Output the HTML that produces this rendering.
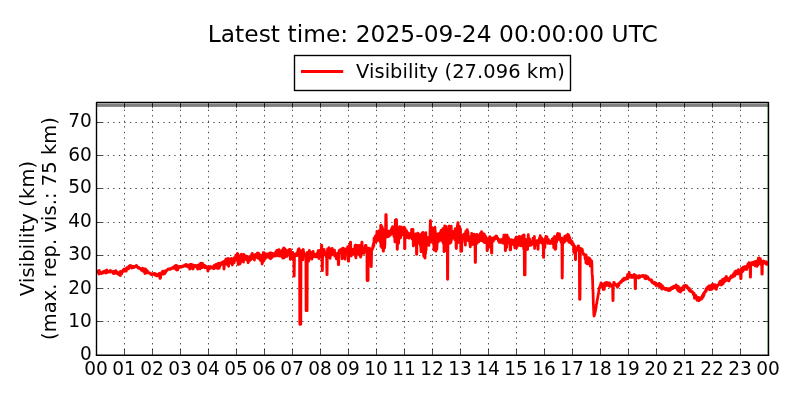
<!DOCTYPE html>
<html lang="en"><head><meta charset="utf-8">
<title>Visibility</title>
<style>
html,body{margin:0;padding:0;background:#fff;}
body{width:800px;height:400px;overflow:hidden;}
svg{display:block;}
text{font-family:"DejaVu Sans","Liberation Sans",sans-serif;fill:#000;}
.t14{font-size:19.44px;}
.t16{font-size:23.33px;}
.grid{stroke:#000;stroke-width:0.7;stroke-dasharray:1.39 4.17;fill:none;}
.tick{stroke:#000;stroke-width:0.7;fill:none;}
</style></head><body>
<svg width="800" height="400" viewBox="0 0 800 400">
<rect x="0" y="0" width="800" height="400" fill="#fff"/>
<rect x="96.5" y="103.75" width="672.0" height="3.15" fill="#808080"/>
<path class="grid" d="M124.5 355.6V102.5M152.5 355.6V102.5M180.5 355.6V102.5M208.5 355.6V102.5M236.5 355.6V102.5M264.5 355.6V102.5M292.5 355.6V102.5M320.5 355.6V102.5M348.5 355.6V102.5M376.5 355.6V102.5M404.5 355.6V102.5M432.5 355.6V102.5M460.5 355.6V102.5M488.5 355.6V102.5M516.5 355.6V102.5M544.5 355.6V102.5M572.5 355.6V102.5M600.5 355.6V102.5M628.5 355.6V102.5M656.5 355.6V102.5M684.5 355.6V102.5M712.5 355.6V102.5M740.5 355.6V102.5M96.5 321.50H768.5M96.5 288.50H768.5M96.5 255.50H768.5M96.5 222.50H768.5M96.5 188.50H768.5M96.5 155.50H768.5M96.5 122.50H768.5"/>
<path class="tick" d="M96.5 354.5v-5.56M96.5 102.5v5.56M124.5 354.5v-5.56M124.5 102.5v5.56M152.5 354.5v-5.56M152.5 102.5v5.56M180.5 354.5v-5.56M180.5 102.5v5.56M208.5 354.5v-5.56M208.5 102.5v5.56M236.5 354.5v-5.56M236.5 102.5v5.56M264.5 354.5v-5.56M264.5 102.5v5.56M292.5 354.5v-5.56M292.5 102.5v5.56M320.5 354.5v-5.56M320.5 102.5v5.56M348.5 354.5v-5.56M348.5 102.5v5.56M376.5 354.5v-5.56M376.5 102.5v5.56M404.5 354.5v-5.56M404.5 102.5v5.56M432.5 354.5v-5.56M432.5 102.5v5.56M460.5 354.5v-5.56M460.5 102.5v5.56M488.5 354.5v-5.56M488.5 102.5v5.56M516.5 354.5v-5.56M516.5 102.5v5.56M544.5 354.5v-5.56M544.5 102.5v5.56M572.5 354.5v-5.56M572.5 102.5v5.56M600.5 354.5v-5.56M600.5 102.5v5.56M628.5 354.5v-5.56M628.5 102.5v5.56M656.5 354.5v-5.56M656.5 102.5v5.56M684.5 354.5v-5.56M684.5 102.5v5.56M712.5 354.5v-5.56M712.5 102.5v5.56M740.5 354.5v-5.56M740.5 102.5v5.56M768.5 354.5v-5.56M768.5 102.5v5.56M96.5 321.50h5.56M768.5 321.50h-5.56M96.5 288.50h5.56M768.5 288.50h-5.56M96.5 255.50h5.56M768.5 255.50h-5.56M96.5 222.50h5.56M768.5 222.50h-5.56M96.5 188.50h5.56M768.5 188.50h-5.56M96.5 155.50h5.56M768.5 155.50h-5.56M96.5 122.50h5.56M768.5 122.50h-5.56"/>
<line x1="767.45" y1="102.5" x2="767.45" y2="354.5" stroke="#008000" stroke-opacity="0.3" stroke-width="1.0"/>
<clipPath id="axclip"><rect x="96.5" y="102.5" width="672.0" height="252.0"/></clipPath>
<polyline clip-path="url(#axclip)" fill="none" stroke="#ff0000" stroke-width="2.78" stroke-linejoin="round" stroke-linecap="butt" points="96.5,271.8 96.7,271.9 97.0,271.1 97.2,271.9 97.4,272.0 97.7,271.9 97.9,272.0 98.1,272.4 98.4,272.8 98.6,271.0 98.8,271.5 99.1,274.0 99.3,270.5 99.5,273.2 99.8,272.2 100.0,272.7 100.2,272.5 100.5,273.1 100.7,272.8 100.9,273.3 101.2,272.8 101.4,272.9 101.6,273.6 101.9,273.3 102.1,272.8 102.3,272.7 102.6,271.9 102.8,272.3 103.0,273.0 103.3,272.2 103.5,272.0 103.7,271.4 104.0,271.7 104.2,272.4 104.4,272.1 104.7,271.5 104.9,271.9 105.1,272.6 105.4,270.8 105.6,270.6 105.8,273.1 106.0,272.0 106.3,270.6 106.5,272.6 106.7,271.3 107.0,270.0 107.2,272.6 107.4,271.6 107.7,271.9 107.9,271.0 108.1,271.4 108.4,271.6 108.6,271.7 108.8,272.0 109.1,271.4 109.3,271.3 109.5,271.6 109.8,271.5 110.0,270.6 110.2,272.0 110.5,272.1 110.7,270.6 110.9,270.8 111.2,271.7 111.4,271.7 111.6,271.1 111.9,271.6 112.1,271.3 112.3,272.0 112.6,271.9 112.8,272.1 113.0,271.9 113.3,273.6 113.5,272.4 113.7,271.5 114.0,271.5 114.2,271.8 114.4,271.9 114.7,272.8 114.9,273.3 115.1,273.4 115.4,273.3 115.6,270.7 115.8,270.6 116.1,271.7 116.3,273.1 116.5,271.5 116.8,271.8 117.0,273.4 117.2,273.6 117.5,272.7 117.7,273.1 117.9,274.2 118.2,274.3 118.4,273.1 118.6,274.0 118.9,273.6 119.1,274.2 119.3,273.7 119.6,274.8 119.8,271.8 120.0,272.7 120.3,275.7 120.5,271.5 120.7,273.2 121.0,273.2 121.2,273.5 121.4,273.5 121.7,273.8 121.9,271.9 122.1,272.4 122.4,271.3 122.6,270.8 122.8,270.9 123.1,269.9 123.3,270.9 123.5,271.4 123.8,269.9 124.0,269.1 124.2,270.3 124.5,270.9 124.7,270.8 124.9,270.2 125.1,271.0 125.4,269.5 125.6,270.5 125.8,268.7 126.1,269.2 126.3,271.1 126.5,268.3 126.8,267.6 127.0,268.4 127.2,267.7 127.5,268.2 127.7,267.6 127.9,267.5 128.2,268.0 128.4,268.2 128.6,268.9 128.9,266.1 129.1,266.4 129.3,266.2 129.6,267.3 129.8,265.7 130.0,267.4 130.3,265.5 130.5,266.1 130.7,266.2 131.0,267.2 131.2,267.6 131.4,265.8 131.7,267.4 131.9,268.0 132.1,268.0 132.4,266.3 132.6,267.3 132.8,267.6 133.1,266.3 133.3,266.7 133.5,266.9 133.8,267.5 134.0,267.0 134.2,267.3 134.5,266.5 134.7,266.8 134.9,266.5 135.2,266.8 135.4,266.2 135.6,266.3 135.9,266.4 136.1,266.4 136.3,265.3 136.6,265.6 136.8,266.3 137.0,266.7 137.3,266.8 137.5,267.2 137.7,267.2 138.0,267.9 138.2,267.9 138.4,267.5 138.7,267.1 138.9,268.4 139.1,268.3 139.4,268.1 139.6,268.3 139.8,268.3 140.1,268.4 140.3,269.0 140.5,269.0 140.8,269.2 141.0,269.0 141.2,269.3 141.5,270.3 141.7,269.5 141.9,269.1 142.2,269.6 142.4,270.1 142.6,268.1 142.9,268.6 143.1,268.8 143.3,271.4 143.5,269.6 143.8,269.3 144.0,269.5 144.2,269.6 144.5,269.3 144.7,268.9 144.9,273.5 145.2,268.8 145.4,272.2 145.6,271.4 145.9,269.3 146.1,269.5 146.3,273.1 146.6,271.1 146.8,270.5 147.0,270.6 147.3,270.8 147.5,272.7 147.7,271.3 148.0,272.8 148.2,272.1 148.4,272.2 148.7,272.7 148.9,273.0 149.1,273.0 149.4,272.6 149.6,272.9 149.8,273.0 150.1,273.3 150.3,273.6 150.5,273.4 150.8,274.4 151.0,274.6 151.2,274.0 151.5,274.7 151.7,273.9 151.9,273.8 152.2,274.5 152.4,273.8 152.6,274.3 152.9,274.2 153.1,274.3 153.3,274.4 153.6,274.1 153.8,274.3 154.0,273.5 154.3,273.4 154.5,274.0 154.7,275.1 155.0,274.0 155.2,273.9 155.4,275.3 155.7,273.9 155.9,274.9 156.1,274.1 156.4,274.6 156.6,275.7 156.8,274.6 157.1,276.0 157.3,275.8 157.5,275.2 157.8,274.3 158.0,274.2 158.2,275.2 158.5,275.0 158.7,275.6 158.9,275.0 159.2,274.2 159.4,273.3 159.6,275.0 159.9,278.3 160.1,274.3 160.3,278.3 160.6,277.5 160.8,275.8 161.0,273.9 161.3,274.4 161.5,273.3 161.7,272.4 161.9,272.4 162.2,272.0 162.4,271.7 162.6,271.3 162.9,271.8 163.1,274.0 163.3,273.3 163.6,274.1 163.8,271.2 164.0,273.0 164.3,272.0 164.5,272.2 164.7,273.7 165.0,272.0 165.2,273.1 165.4,271.0 165.7,272.2 165.9,271.2 166.1,271.4 166.4,270.8 166.6,271.0 166.8,270.1 167.1,270.5 167.3,270.0 167.5,270.0 167.8,269.3 168.0,269.6 168.2,269.4 168.5,269.0 168.7,269.2 168.9,269.4 169.2,269.2 169.4,269.0 169.6,269.4 169.9,268.8 170.1,268.7 170.3,268.6 170.6,269.2 170.8,268.3 171.0,268.4 171.3,268.4 171.5,268.1 171.7,267.8 172.0,267.8 172.2,267.9 172.4,267.8 172.7,268.3 172.9,267.5 173.1,267.6 173.4,268.4 173.6,267.2 173.8,267.8 174.1,267.9 174.3,266.3 174.5,266.6 174.8,268.1 175.0,267.2 175.2,265.9 175.5,265.6 175.7,265.4 175.9,269.4 176.2,265.3 176.4,269.0 176.6,267.8 176.9,270.1 177.1,268.4 177.3,266.8 177.6,266.1 177.8,269.8 178.0,266.3 178.3,267.8 178.5,268.0 178.7,268.0 179.0,266.6 179.2,266.4 179.4,266.5 179.7,266.6 179.9,266.4 180.1,267.1 180.3,267.2 180.6,267.0 180.8,267.4 181.0,266.8 181.3,266.9 181.5,266.7 181.7,266.3 182.0,266.9 182.2,266.6 182.4,266.1 182.7,266.1 182.9,266.6 183.1,266.4 183.4,265.7 183.6,265.9 183.8,265.6 184.1,265.6 184.3,266.1 184.5,265.4 184.8,266.1 185.0,264.9 185.2,265.9 185.5,264.6 185.7,265.3 185.9,265.6 186.2,265.6 186.4,264.4 186.6,266.3 186.9,264.9 187.1,265.7 187.3,266.6 187.6,265.8 187.8,265.6 188.0,265.8 188.3,267.1 188.5,265.8 188.7,266.5 189.0,265.6 189.2,265.9 189.4,264.9 189.7,269.1 189.9,265.0 190.1,264.8 190.4,264.2 190.6,264.7 190.8,268.3 191.1,266.5 191.3,264.3 191.5,266.9 191.8,268.1 192.0,264.8 192.2,267.4 192.5,265.0 192.7,265.7 192.9,269.0 193.2,268.6 193.4,268.3 193.6,265.1 193.9,266.5 194.1,266.2 194.3,266.3 194.6,265.9 194.8,266.0 195.0,266.1 195.3,265.3 195.5,265.3 195.7,265.6 196.0,266.9 196.2,266.8 196.4,266.7 196.7,265.8 196.9,265.6 197.1,267.1 197.4,267.6 197.6,269.1 197.8,265.1 198.1,267.4 198.3,267.3 198.5,267.7 198.8,266.7 199.0,267.6 199.2,268.0 199.4,264.9 199.7,268.2 199.9,264.0 200.1,268.9 200.4,264.9 200.6,265.2 200.8,264.3 201.1,264.0 201.3,263.2 201.5,265.6 201.8,265.2 202.0,264.0 202.2,267.6 202.5,263.3 202.7,265.2 202.9,264.9 203.2,264.8 203.4,265.8 203.6,265.6 203.9,265.0 204.1,265.8 204.3,266.9 204.6,266.6 204.8,265.3 205.0,267.8 205.3,265.8 205.5,266.6 205.7,266.7 206.0,267.4 206.2,267.4 206.4,267.2 206.7,267.9 206.9,266.9 207.1,267.5 207.4,267.2 207.6,266.9 207.8,271.0 208.1,271.0 208.3,266.6 208.5,268.8 208.8,267.8 209.0,268.7 209.2,266.8 209.5,267.5 209.7,268.6 209.9,267.6 210.2,266.4 210.4,268.2 210.6,267.2 210.9,268.1 211.1,267.4 211.3,267.7 211.6,267.3 211.8,267.7 212.0,267.7 212.3,267.1 212.5,267.0 212.7,267.1 213.0,267.4 213.2,267.3 213.4,268.6 213.7,268.7 213.9,266.2 214.1,265.3 214.4,266.3 214.6,268.3 214.8,266.6 215.1,266.8 215.3,267.8 215.5,265.7 215.8,264.3 216.0,264.9 216.2,265.4 216.5,264.1 216.7,264.7 216.9,267.5 217.2,268.4 217.4,266.9 217.6,266.8 217.8,264.5 218.1,267.4 218.3,268.5 218.5,263.1 218.8,265.1 219.0,265.8 219.2,268.2 219.5,264.3 219.7,263.4 219.9,266.5 220.2,265.3 220.4,263.1 220.6,264.0 220.9,263.8 221.1,263.1 221.3,264.4 221.6,262.8 221.8,262.6 222.0,263.0 222.3,262.6 222.5,263.6 222.7,263.4 223.0,262.3 223.2,261.7 223.4,261.9 223.7,262.8 223.9,269.0 224.1,269.0 224.4,261.4 224.6,263.7 224.8,261.1 225.1,263.4 225.3,262.3 225.5,260.0 225.8,259.3 226.0,262.9 226.2,261.9 226.5,263.8 226.7,258.9 226.9,260.3 227.2,262.4 227.4,260.1 227.6,264.9 227.9,265.1 228.1,264.2 228.3,258.5 228.6,266.3 228.8,261.6 229.0,263.7 229.3,261.2 229.5,261.8 229.7,260.4 230.0,261.1 230.2,259.5 230.4,259.8 230.7,260.6 230.9,259.0 231.1,263.3 231.4,258.4 231.6,259.5 231.8,259.6 232.1,258.8 232.3,265.0 232.5,259.4 232.8,262.7 233.0,262.7 233.2,263.4 233.5,259.5 233.7,259.8 233.9,261.4 234.2,262.6 234.4,257.6 234.6,258.0 234.9,257.7 235.1,260.1 235.3,259.3 235.6,260.2 235.8,255.1 236.0,255.4 236.2,257.4 236.5,258.8 236.7,259.7 236.9,258.6 237.2,256.2 237.4,253.3 237.6,255.5 237.9,253.9 238.1,264.5 238.3,264.5 238.6,260.3 238.8,264.3 239.0,259.9 239.3,258.1 239.5,262.2 239.7,256.0 240.0,263.9 240.2,258.0 240.4,263.0 240.7,261.4 240.9,261.0 241.1,259.3 241.4,254.2 241.6,255.9 241.8,256.9 242.1,257.2 242.3,255.3 242.5,258.7 242.8,258.4 243.0,255.8 243.2,255.5 243.5,262.1 243.7,258.5 243.9,254.4 244.2,257.4 244.4,257.1 244.6,257.2 244.9,255.9 245.1,259.3 245.3,255.9 245.6,258.6 245.8,256.3 246.0,256.0 246.3,256.3 246.5,259.3 246.7,257.3 247.0,258.0 247.2,258.2 247.4,260.6 247.7,256.6 247.9,258.1 248.1,262.8 248.4,260.7 248.6,256.9 248.8,260.4 249.1,261.3 249.3,257.6 249.5,257.9 249.8,259.3 250.0,256.4 250.2,256.2 250.5,258.9 250.7,259.9 250.9,257.6 251.2,255.9 251.4,258.5 251.6,255.4 251.9,253.8 252.1,257.5 252.3,253.5 252.6,257.6 252.8,256.1 253.0,257.0 253.3,255.5 253.5,257.7 253.7,259.0 254.0,256.0 254.2,257.0 254.4,260.0 254.7,257.0 254.9,254.8 255.1,256.9 255.3,255.5 255.6,254.5 255.8,255.5 256.0,254.7 256.3,255.0 256.5,256.0 256.7,255.9 257.0,257.6 257.2,253.4 257.4,254.2 257.7,252.9 257.9,253.3 258.1,258.3 258.4,255.5 258.6,256.5 258.8,258.4 259.1,253.7 259.3,254.8 259.5,256.8 259.8,256.0 260.0,256.2 260.2,260.0 260.5,256.7 260.7,260.6 260.9,259.8 261.2,257.4 261.4,255.4 261.6,256.3 261.9,259.8 262.1,264.0 262.3,259.4 262.6,262.8 262.8,258.1 263.0,261.5 263.3,252.6 263.5,258.8 263.7,254.9 264.0,260.8 264.2,252.7 264.4,253.2 264.7,259.3 264.9,254.0 265.1,257.0 265.4,258.5 265.6,256.5 265.8,255.6 266.1,255.4 266.3,257.1 266.5,254.0 266.8,257.1 267.0,256.3 267.2,257.0 267.5,256.6 267.7,256.0 267.9,256.8 268.2,257.1 268.4,254.0 268.6,255.1 268.9,257.1 269.1,256.6 269.3,255.9 269.6,257.4 269.8,252.9 270.0,258.4 270.3,257.0 270.5,258.2 270.7,258.8 271.0,252.8 271.2,255.3 271.4,253.6 271.7,256.1 271.9,255.8 272.1,253.6 272.4,257.3 272.6,253.5 272.8,255.3 273.1,254.6 273.3,255.6 273.5,254.6 273.7,254.7 274.0,255.1 274.2,254.7 274.4,254.6 274.7,254.5 274.9,253.3 275.1,256.1 275.4,252.8 275.6,253.0 275.8,251.8 276.1,255.9 276.3,255.5 276.5,250.9 276.8,252.6 277.0,255.1 277.2,250.2 277.5,251.5 277.7,250.9 277.9,253.2 278.2,253.9 278.4,255.8 278.6,255.8 278.9,255.9 279.1,249.6 279.3,252.7 279.6,251.9 279.8,254.4 280.0,256.1 280.3,255.1 280.5,253.9 280.7,253.9 281.0,252.7 281.2,251.4 281.4,255.6 281.7,251.0 281.9,252.5 282.1,256.8 282.4,250.0 282.6,253.4 282.8,258.1 283.1,250.6 283.3,249.6 283.5,248.1 283.8,248.0 284.0,257.9 284.2,251.7 284.5,249.8 284.7,248.7 284.9,254.6 285.2,255.0 285.4,256.8 285.6,251.1 285.9,252.4 286.1,250.0 286.3,250.8 286.6,251.9 286.8,250.9 287.0,256.3 287.3,253.3 287.5,254.7 287.7,253.0 288.0,250.7 288.2,252.8 288.4,253.3 288.7,254.3 288.9,254.5 289.1,254.4 289.4,249.4 289.6,250.8 289.8,252.0 290.1,253.8 290.3,259.4 290.5,249.7 290.8,256.0 291.0,253.1 291.2,256.6 291.5,252.3 291.7,255.2 291.9,254.4 292.1,258.7 292.4,252.8 292.6,258.6 292.8,252.3 293.1,259.1 293.3,255.1 293.5,256.5 293.8,254.2 294.0,276.2 294.2,276.2 294.5,254.7 294.7,256.1 294.9,254.6 295.2,255.9 295.4,253.8 295.6,255.4 295.9,253.9 296.1,254.4 296.3,255.6 296.6,253.7 296.8,254.2 297.0,255.7 297.3,254.9 297.5,253.6 297.7,251.5 298.0,251.7 298.2,249.5 298.4,253.3 298.7,255.0 298.9,250.0 299.1,248.7 299.4,253.2 299.6,257.7 299.8,324.3 300.1,324.3 300.3,324.3 300.5,324.3 300.8,324.3 301.0,255.6 301.2,255.3 301.5,254.8 301.7,250.6 301.9,251.7 302.2,251.6 302.4,250.1 302.6,255.9 302.9,259.8 303.1,252.0 303.3,249.5 303.6,255.8 303.8,252.1 304.0,254.7 304.3,256.0 304.5,254.1 304.7,254.1 305.0,255.2 305.2,254.6 305.4,255.7 305.7,254.2 305.9,255.8 306.1,310.7 306.4,310.7 306.6,310.7 306.8,310.7 307.1,310.7 307.3,252.5 307.5,256.1 307.8,258.9 308.0,252.5 308.2,259.4 308.5,261.3 308.7,256.6 308.9,260.6 309.2,251.5 309.4,250.3 309.6,255.6 309.9,255.2 310.1,257.7 310.3,255.9 310.6,252.1 310.8,252.5 311.0,254.4 311.2,253.9 311.5,258.3 311.7,257.0 311.9,259.1 312.2,255.9 312.4,252.6 312.6,251.9 312.9,253.8 313.1,251.3 313.3,254.2 313.6,256.9 313.8,256.7 314.0,255.7 314.3,253.6 314.5,254.0 314.7,255.2 315.0,254.6 315.2,255.4 315.4,255.9 315.7,255.2 315.9,256.9 316.1,255.8 316.4,257.0 316.6,256.6 316.8,255.4 317.1,253.6 317.3,254.8 317.5,253.6 317.8,252.4 318.0,253.9 318.2,250.6 318.5,250.7 318.7,251.7 318.9,258.7 319.2,250.5 319.4,256.1 319.6,254.8 319.9,255.3 320.1,256.5 320.3,252.1 320.6,252.1 320.8,256.8 321.0,251.5 321.3,250.5 321.5,245.2 321.7,245.2 322.0,251.3 322.2,270.7 322.4,270.7 322.7,249.7 322.9,251.7 323.1,253.3 323.4,252.3 323.6,252.0 323.8,254.5 324.1,249.3 324.3,250.1 324.5,253.1 324.8,253.1 325.0,253.3 325.2,253.0 325.5,255.2 325.7,254.8 325.9,253.7 326.2,256.9 326.4,254.7 326.6,255.9 326.9,274.7 327.1,274.7 327.3,253.0 327.6,248.8 327.8,248.8 328.0,249.2 328.3,254.3 328.5,253.4 328.7,257.1 329.0,247.7 329.2,249.1 329.4,249.6 329.6,248.3 329.9,253.2 330.1,258.4 330.3,254.5 330.6,255.7 330.8,250.3 331.0,249.9 331.3,254.3 331.5,249.4 331.7,253.2 332.0,254.9 332.2,248.5 332.4,250.5 332.7,253.9 332.9,253.8 333.1,249.9 333.4,250.3 333.6,253.7 333.8,253.6 334.1,253.8 334.3,253.1 334.5,250.2 334.8,256.1 335.0,254.7 335.2,254.3 335.5,253.6 335.7,256.6 335.9,255.3 336.2,255.8 336.4,258.8 336.6,258.1 336.9,254.1 337.1,257.4 337.3,255.3 337.6,253.1 337.8,253.8 338.0,253.4 338.3,264.7 338.5,264.7 338.7,264.7 339.0,251.5 339.2,250.3 339.4,251.6 339.7,251.4 339.9,249.9 340.1,249.7 340.4,249.8 340.6,252.2 340.8,253.1 341.1,249.7 341.3,249.9 341.5,253.3 341.8,248.8 342.0,257.0 342.2,258.8 342.5,257.5 342.7,255.2 342.9,248.2 343.2,248.2 343.4,248.2 343.6,252.5 343.9,254.2 344.1,253.6 344.3,252.3 344.6,255.6 344.8,252.9 345.0,259.2 345.3,250.0 345.5,249.6 345.7,249.0 346.0,251.8 346.2,249.7 346.4,249.9 346.7,248.9 346.9,253.4 347.1,249.1 347.4,249.1 347.6,246.9 347.8,253.5 348.0,253.9 348.3,261.2 348.5,261.2 348.7,261.2 349.0,245.8 349.2,251.3 349.4,255.8 349.7,245.3 349.9,246.9 350.1,246.6 350.4,242.1 350.6,242.1 350.8,248.8 351.1,251.4 351.3,256.0 351.5,255.0 351.8,253.3 352.0,254.2 352.2,254.1 352.5,249.4 352.7,249.6 352.9,252.3 353.2,252.1 353.4,252.4 353.6,249.1 353.9,249.8 354.1,250.6 354.3,253.9 354.6,249.4 354.8,253.0 355.0,245.3 355.3,245.1 355.5,256.8 355.7,245.2 356.0,257.9 356.2,246.7 356.4,251.5 356.7,249.1 356.9,252.2 357.1,245.5 357.4,253.7 357.6,247.5 357.8,247.2 358.1,254.2 358.3,247.8 358.5,245.6 358.8,247.0 359.0,254.1 359.2,255.1 359.5,255.1 359.7,254.6 359.9,245.3 360.2,255.3 360.4,249.9 360.6,257.1 360.9,249.8 361.1,252.1 361.3,255.3 361.6,252.5 361.8,242.1 362.0,242.1 362.3,252.2 362.5,250.6 362.7,249.9 363.0,250.7 363.2,250.6 363.4,249.0 363.7,248.7 363.9,253.4 364.1,251.1 364.4,249.4 364.6,250.1 364.8,251.1 365.1,246.0 365.3,246.3 365.5,245.3 365.8,248.9 366.0,245.5 366.2,247.5 366.5,249.6 366.7,248.2 366.9,248.7 367.1,280.5 367.4,280.5 367.6,280.5 367.8,280.5 368.1,280.5 368.3,248.2 368.5,250.1 368.8,250.0 369.0,249.7 369.2,250.6 369.5,248.2 369.7,250.7 369.9,248.9 370.2,252.3 370.4,249.5 370.6,252.0 370.9,251.0 371.1,266.7 371.3,266.7 371.6,250.6 371.8,249.2 372.0,248.8 372.3,249.4 372.5,249.4 372.7,247.2 373.0,245.3 373.2,247.3 373.4,243.7 373.7,244.0 373.9,245.7 374.1,238.1 374.4,240.9 374.6,239.1 374.8,242.3 375.1,236.4 375.3,239.0 375.5,242.0 375.8,239.1 376.0,235.3 376.2,242.0 376.5,237.2 376.7,239.6 376.9,231.4 377.2,235.6 377.4,235.7 377.6,238.8 377.9,235.3 378.1,240.3 378.3,231.9 378.6,239.7 378.8,239.5 379.0,237.7 379.3,230.6 379.5,237.9 379.7,233.4 380.0,233.2 380.2,235.8 380.4,242.4 380.7,225.4 380.9,246.6 381.1,225.2 381.4,240.2 381.6,232.1 381.8,247.5 382.1,226.7 382.3,230.6 382.5,228.3 382.8,229.6 383.0,241.1 383.2,251.2 383.5,251.2 383.7,242.4 383.9,230.0 384.2,237.3 384.4,240.4 384.6,247.9 384.9,244.0 385.1,236.4 385.3,231.1 385.5,235.1 385.8,214.6 386.0,214.6 386.2,214.6 386.5,235.0 386.7,235.8 386.9,236.5 387.2,236.9 387.4,233.0 387.6,232.2 387.9,232.3 388.1,231.4 388.3,236.5 388.6,231.1 388.8,236.4 389.0,232.9 389.3,233.0 389.5,234.8 389.7,233.3 390.0,233.6 390.2,231.7 390.4,235.2 390.7,231.3 390.9,232.4 391.1,229.7 391.4,231.7 391.6,233.6 391.8,228.1 392.1,231.3 392.3,232.2 392.5,226.7 392.8,227.4 393.0,228.4 393.2,232.5 393.5,232.9 393.7,233.6 393.9,236.4 394.2,231.6 394.4,228.8 394.6,233.9 394.9,241.9 395.1,227.8 395.3,220.2 395.6,220.2 395.8,224.1 396.0,219.7 396.3,238.1 396.5,219.7 396.7,233.0 397.0,232.5 397.2,249.3 397.4,249.3 397.7,227.6 397.9,244.0 398.1,240.6 398.4,229.7 398.6,243.1 398.8,239.0 399.1,237.2 399.3,227.3 399.5,226.8 399.8,229.2 400.0,226.8 400.2,238.0 400.5,231.0 400.7,237.7 400.9,232.4 401.2,232.7 401.4,227.0 401.6,231.2 401.9,235.1 402.1,234.8 402.3,230.4 402.6,228.9 402.8,231.1 403.0,233.5 403.3,232.6 403.5,232.4 403.7,231.7 403.9,230.2 404.2,227.2 404.4,228.0 404.6,248.7 404.9,248.7 405.1,228.5 405.3,231.7 405.6,232.7 405.8,231.1 406.0,230.9 406.3,233.6 406.5,230.7 406.7,233.8 407.0,237.5 407.2,235.5 407.4,232.7 407.7,232.4 407.9,235.0 408.1,236.2 408.4,233.8 408.6,233.2 408.8,238.2 409.1,238.1 409.3,237.7 409.5,237.7 409.8,235.0 410.0,236.3 410.2,233.3 410.5,233.8 410.7,235.2 410.9,234.7 411.2,235.6 411.4,234.8 411.6,229.4 411.9,233.1 412.1,239.0 412.3,233.2 412.6,234.3 412.8,233.3 413.0,229.4 413.3,245.9 413.5,241.2 413.7,245.4 414.0,233.8 414.2,239.4 414.4,238.1 414.7,238.3 414.9,237.9 415.1,241.7 415.4,239.9 415.6,241.7 415.8,233.9 416.1,239.6 416.3,235.7 416.5,254.3 416.8,254.3 417.0,236.6 417.2,234.2 417.5,238.3 417.7,233.2 417.9,236.8 418.2,233.4 418.4,238.6 418.6,234.8 418.9,242.7 419.1,234.6 419.3,243.3 419.6,241.2 419.8,235.8 420.0,235.7 420.3,234.8 420.5,246.2 420.7,244.9 421.0,251.7 421.2,251.7 421.4,247.3 421.7,242.1 421.9,238.1 422.1,233.2 422.4,232.8 422.6,247.4 422.8,237.5 423.0,232.5 423.3,240.2 423.5,252.1 423.7,256.3 424.0,256.2 424.2,254.9 424.4,248.4 424.7,256.2 424.9,258.1 425.1,258.1 425.4,237.5 425.6,253.6 425.8,232.6 426.1,250.1 426.3,236.7 426.5,242.8 426.8,237.1 427.0,238.4 427.2,240.3 427.5,241.2 427.7,239.1 427.9,243.5 428.2,243.8 428.4,238.5 428.6,243.6 428.9,245.4 429.1,237.4 429.3,241.6 429.6,237.0 429.8,242.2 430.0,233.9 430.3,220.7 430.5,220.7 430.7,233.7 431.0,242.2 431.2,239.9 431.4,239.0 431.7,228.1 431.9,233.8 432.1,236.5 432.4,234.6 432.6,236.0 432.8,240.8 433.1,232.4 433.3,240.4 433.5,228.4 433.8,243.8 434.0,250.0 434.2,234.4 434.5,245.2 434.7,237.8 434.9,227.2 435.2,232.2 435.4,231.4 435.6,242.6 435.9,251.2 436.1,234.4 436.3,236.4 436.6,249.3 436.8,249.3 437.0,247.0 437.3,236.5 437.5,241.2 437.7,239.5 438.0,233.8 438.2,242.0 438.4,236.1 438.7,234.0 438.9,233.8 439.1,239.3 439.4,239.7 439.6,239.5 439.8,239.9 440.1,240.3 440.3,232.5 440.5,236.8 440.8,238.4 441.0,230.5 441.2,233.7 441.4,233.8 441.7,239.4 441.9,232.2 442.1,230.2 442.4,235.6 442.6,241.7 442.8,228.7 443.1,231.9 443.3,243.3 443.5,232.8 443.8,231.7 444.0,251.7 444.2,231.3 444.5,236.6 444.7,225.9 444.9,234.0 445.2,235.0 445.4,245.8 445.6,250.7 445.9,226.5 446.1,249.2 446.3,228.8 446.6,241.5 446.8,239.5 447.0,236.9 447.3,236.4 447.5,279.3 447.7,279.3 448.0,231.4 448.2,234.8 448.4,237.3 448.7,232.5 448.9,226.1 449.1,236.0 449.4,226.2 449.6,243.4 449.8,226.6 450.1,236.0 450.3,238.8 450.5,242.7 450.8,239.3 451.0,242.4 451.2,226.1 451.5,240.0 451.7,235.7 451.9,235.0 452.2,233.2 452.4,231.1 452.6,231.4 452.9,237.5 453.1,233.8 453.3,237.0 453.6,233.5 453.8,235.6 454.0,236.4 454.3,233.8 454.5,237.9 454.7,239.7 455.0,231.9 455.2,228.7 455.4,229.5 455.7,230.5 455.9,232.3 456.1,247.5 456.4,248.5 456.6,233.4 456.8,242.2 457.1,242.5 457.3,225.7 457.5,240.1 457.8,222.7 458.0,222.7 458.2,225.7 458.5,234.9 458.7,242.5 458.9,227.4 459.2,232.2 459.4,226.2 459.6,230.9 459.8,242.3 460.1,238.8 460.3,232.4 460.5,228.7 460.8,251.4 461.0,251.4 461.2,237.9 461.5,251.2 461.7,251.2 461.9,240.2 462.2,238.7 462.4,235.5 462.6,236.0 462.9,236.7 463.1,236.9 463.3,236.9 463.6,234.4 463.8,237.0 464.0,234.1 464.3,235.0 464.5,237.1 464.7,239.3 465.0,242.6 465.2,234.2 465.4,245.2 465.7,231.5 465.9,233.8 466.1,236.5 466.4,232.9 466.6,233.4 466.8,230.3 467.1,229.6 467.3,229.6 467.5,232.2 467.8,231.3 468.0,232.2 468.2,240.8 468.5,237.4 468.7,236.6 468.9,239.4 469.2,236.5 469.4,236.7 469.6,237.6 469.9,243.2 470.1,245.0 470.3,246.8 470.6,243.6 470.8,241.6 471.0,239.0 471.3,238.5 471.5,238.5 471.7,233.3 472.0,236.2 472.2,239.7 472.4,236.0 472.7,244.5 472.9,237.8 473.1,235.0 473.4,241.5 473.6,239.0 473.8,242.5 474.1,234.1 474.3,239.9 474.5,234.8 474.8,241.9 475.0,238.0 475.2,262.4 475.5,262.4 475.7,240.1 475.9,238.0 476.2,236.8 476.4,238.7 476.6,243.6 476.9,234.4 477.1,241.8 477.3,236.7 477.6,241.1 477.8,242.3 478.0,238.4 478.3,235.8 478.5,238.0 478.7,237.6 478.9,241.8 479.2,240.2 479.4,235.4 479.6,237.2 479.9,235.9 480.1,233.6 480.3,236.3 480.6,239.8 480.8,235.8 481.0,235.4 481.3,240.7 481.5,231.7 481.7,234.0 482.0,232.3 482.2,238.2 482.4,235.5 482.7,234.0 482.9,235.3 483.1,233.6 483.4,239.1 483.6,242.0 483.8,237.9 484.1,234.4 484.3,234.0 484.5,239.3 484.8,242.6 485.0,235.9 485.2,242.1 485.5,236.1 485.7,239.5 485.9,238.3 486.2,237.6 486.4,238.4 486.6,239.8 486.9,241.8 487.1,250.6 487.3,250.6 487.6,242.0 487.8,242.8 488.0,243.7 488.3,242.3 488.5,244.1 488.7,238.5 489.0,238.0 489.2,247.0 489.4,245.6 489.7,236.6 489.9,239.3 490.1,237.0 490.4,241.3 490.6,242.0 490.8,242.9 491.1,242.2 491.3,241.0 491.5,253.1 491.8,253.1 492.0,239.5 492.2,241.7 492.5,238.3 492.7,238.1 492.9,241.1 493.2,239.0 493.4,241.1 493.6,238.5 493.9,239.4 494.1,238.9 494.3,237.5 494.6,238.9 494.8,238.9 495.0,237.5 495.3,239.1 495.5,236.5 495.7,236.5 496.0,238.5 496.2,236.0 496.4,236.2 496.7,236.1 496.9,238.3 497.1,237.4 497.3,238.0 497.6,237.7 497.8,239.0 498.0,239.3 498.3,239.0 498.5,241.1 498.7,240.4 499.0,240.3 499.2,242.3 499.4,239.8 499.7,241.5 499.9,239.7 500.1,240.9 500.4,242.5 500.6,239.8 500.8,241.9 501.1,240.2 501.3,241.0 501.5,239.6 501.8,241.9 502.0,241.9 502.2,241.8 502.5,240.8 502.7,243.2 502.9,238.7 503.2,242.1 503.4,242.4 503.6,240.0 503.9,235.1 504.1,240.8 504.3,238.5 504.6,242.9 504.8,243.9 505.0,235.1 505.3,250.6 505.5,250.6 505.7,242.2 506.0,235.1 506.2,243.9 506.4,236.0 506.7,247.4 506.9,243.4 507.1,235.1 507.4,241.6 507.6,243.4 507.8,242.3 508.1,241.6 508.3,237.4 508.5,241.4 508.8,241.7 509.0,238.7 509.2,239.7 509.5,241.6 509.7,240.8 509.9,240.1 510.2,249.9 510.4,249.9 510.6,249.9 510.9,240.0 511.1,243.9 511.3,239.9 511.6,239.8 511.8,241.6 512.0,244.1 512.3,243.8 512.5,241.2 512.7,240.6 513.0,241.1 513.2,240.2 513.4,243.8 513.7,244.7 513.9,242.6 514.1,243.6 514.4,243.6 514.6,243.9 514.8,248.0 515.1,243.6 515.3,242.3 515.5,238.4 515.8,243.4 516.0,247.8 516.2,237.2 516.4,248.1 516.7,237.1 516.9,241.9 517.1,244.9 517.4,246.3 517.6,239.0 517.8,240.7 518.1,239.4 518.3,237.6 518.5,244.4 518.8,239.5 519.0,242.6 519.2,236.3 519.5,236.5 519.7,245.3 519.9,243.7 520.2,245.4 520.4,244.3 520.6,238.8 520.9,245.9 521.1,238.5 521.3,237.1 521.6,236.7 521.8,240.8 522.0,239.4 522.3,237.4 522.5,237.4 522.7,237.2 523.0,235.3 523.2,246.5 523.4,241.1 523.7,248.9 523.9,239.5 524.1,235.0 524.4,274.9 524.6,274.9 524.8,274.9 525.1,274.9 525.3,242.7 525.5,239.5 525.8,249.4 526.0,240.5 526.2,239.5 526.5,247.8 526.7,248.7 526.9,241.6 527.2,246.0 527.4,241.4 527.6,249.5 527.9,239.8 528.1,238.6 528.3,234.7 528.6,244.5 528.8,244.0 529.0,238.3 529.3,245.6 529.5,238.8 529.7,240.2 530.0,244.7 530.2,241.4 530.4,243.8 530.7,244.0 530.9,242.9 531.1,242.3 531.4,245.2 531.6,244.1 531.8,244.3 532.1,242.5 532.3,241.2 532.5,241.1 532.8,240.5 533.0,238.2 533.2,243.6 533.5,240.0 533.7,243.6 533.9,238.0 534.2,240.3 534.4,236.5 534.6,248.5 534.8,243.5 535.1,241.0 535.3,242.6 535.5,244.6 535.8,245.0 536.0,244.1 536.2,241.0 536.5,241.3 536.7,241.3 536.9,240.6 537.2,241.0 537.4,240.7 537.6,241.2 537.9,249.3 538.1,249.3 538.3,241.3 538.6,241.2 538.8,240.3 539.0,241.6 539.3,242.5 539.5,237.8 539.7,238.9 540.0,242.5 540.2,235.7 540.4,239.2 540.7,240.7 540.9,241.7 541.1,240.3 541.4,237.6 541.6,237.9 541.8,241.4 542.1,243.2 542.3,239.5 542.5,240.8 542.8,240.6 543.0,243.2 543.2,245.2 543.5,257.4 543.7,257.4 543.9,246.6 544.2,239.3 544.4,239.6 544.6,246.7 544.9,247.4 545.1,240.9 545.3,240.5 545.6,240.2 545.8,236.5 546.0,237.1 546.3,237.6 546.5,241.2 546.7,238.2 547.0,236.8 547.2,242.0 547.4,239.3 547.7,241.0 547.9,243.4 548.1,241.7 548.4,239.4 548.6,242.8 548.8,240.4 549.1,242.6 549.3,241.1 549.5,241.4 549.8,241.8 550.0,241.2 550.2,243.6 550.5,243.4 550.7,241.3 550.9,242.0 551.2,241.9 551.4,240.9 551.6,241.9 551.9,240.8 552.1,239.1 552.3,241.8 552.6,243.6 552.8,243.7 553.0,241.6 553.2,239.8 553.5,237.8 553.7,247.7 553.9,240.9 554.2,244.4 554.4,237.3 554.6,236.4 554.9,247.9 555.1,249.4 555.3,243.8 555.6,244.1 555.8,248.9 556.0,237.9 556.3,238.9 556.5,239.7 556.7,241.9 557.0,236.4 557.2,238.3 557.4,234.2 557.7,233.4 557.9,236.4 558.1,238.7 558.4,235.9 558.6,234.7 558.8,236.5 559.1,239.3 559.3,233.9 559.5,233.9 559.8,238.0 560.0,238.6 560.2,237.3 560.5,238.3 560.7,240.7 560.9,241.8 561.2,240.5 561.4,240.4 561.6,243.5 561.9,239.8 562.1,278.1 562.3,278.1 562.6,241.2 562.8,238.1 563.0,239.4 563.3,242.0 563.5,239.6 563.7,242.6 564.0,239.6 564.2,240.2 564.4,240.0 564.7,236.3 564.9,241.5 565.1,236.2 565.4,239.9 565.6,237.5 565.8,236.5 566.1,237.1 566.3,235.7 566.5,238.2 566.8,240.4 567.0,238.4 567.2,235.8 567.5,240.3 567.7,234.9 567.9,234.3 568.2,236.6 568.4,240.3 568.6,234.8 568.9,242.1 569.1,236.3 569.3,240.5 569.6,238.3 569.8,237.5 570.0,242.7 570.3,241.4 570.5,240.1 570.7,240.3 571.0,240.4 571.2,242.6 571.4,242.2 571.6,244.0 571.9,241.6 572.1,241.4 572.3,242.0 572.6,244.9 572.8,244.6 573.0,243.5 573.3,245.7 573.5,244.0 573.7,252.3 574.0,247.9 574.2,247.3 574.4,246.6 574.7,253.1 574.9,253.8 575.1,246.5 575.4,259.7 575.6,259.7 575.8,249.9 576.1,250.5 576.3,248.8 576.5,248.7 576.8,249.5 577.0,250.4 577.2,249.9 577.5,249.9 577.7,250.0 577.9,250.1 578.2,245.8 578.4,245.8 578.6,245.8 578.9,248.9 579.1,247.9 579.3,248.8 579.6,299.3 579.8,299.3 580.0,299.3 580.3,248.5 580.5,249.3 580.7,250.0 581.0,250.8 581.2,249.5 581.4,250.6 581.7,249.0 581.9,251.3 582.1,249.1 582.4,250.5 582.6,251.2 582.8,252.1 583.1,253.1 583.3,254.3 583.5,254.4 583.8,254.5 584.0,254.0 584.2,254.3 584.5,255.3 584.7,255.4 584.9,256.5 585.2,258.7 585.4,256.5 585.6,255.9 585.9,262.8 586.1,255.0 586.3,259.8 586.6,261.7 586.8,263.7 587.0,257.7 587.3,259.4 587.5,263.9 587.7,258.7 588.0,261.4 588.2,259.5 588.4,257.7 588.7,259.7 588.9,263.1 589.1,259.8 589.4,262.9 589.6,258.4 589.8,259.5 590.1,265.2 590.3,266.2 590.5,259.6 590.7,264.8 591.0,264.3 591.2,261.8 591.4,263.7 591.7,260.9 591.9,264.7 592.1,273.4 592.4,275.9 592.6,280.9 592.8,287.0 593.1,293.0 593.3,302.0 593.5,306.5 593.8,313.1 594.0,316.0 594.2,315.9 594.5,314.4 594.7,313.9 594.9,312.7 595.2,312.2 595.4,310.4 595.6,310.2 595.9,307.9 596.1,307.4 596.3,304.8 596.6,303.9 596.8,303.3 597.0,301.0 597.3,299.9 597.5,298.6 597.7,298.0 598.0,296.0 598.2,295.1 598.4,293.6 598.7,292.2 598.9,290.5 599.1,288.8 599.4,287.5 599.6,287.5 599.8,286.8 600.1,285.8 600.3,284.9 600.5,284.9 600.8,283.8 601.0,282.8 601.2,285.0 601.5,284.4 601.7,283.9 601.9,283.8 602.2,287.4 602.4,286.2 602.6,285.0 602.9,287.2 603.1,289.4 603.3,287.1 603.6,284.5 603.8,287.1 604.0,289.3 604.3,289.4 604.5,283.1 604.7,283.2 605.0,285.2 605.2,282.9 605.4,285.9 605.7,285.9 605.9,285.3 606.1,283.7 606.4,282.3 606.6,283.5 606.8,282.5 607.1,283.1 607.3,284.2 607.5,284.5 607.8,282.9 608.0,285.4 608.2,285.1 608.5,283.6 608.7,283.1 608.9,283.4 609.1,284.7 609.4,286.3 609.6,282.8 609.8,286.0 610.1,285.8 610.3,285.2 610.5,284.2 610.8,284.7 611.0,286.0 611.2,285.8 611.5,285.8 611.7,286.4 611.9,285.5 612.2,285.4 612.4,286.1 612.6,286.2 612.9,300.6 613.1,300.6 613.3,284.5 613.6,284.5 613.8,282.4 614.0,283.7 614.3,282.5 614.5,283.7 614.7,283.6 615.0,284.0 615.2,284.4 615.4,284.8 615.7,284.3 615.9,285.2 616.1,285.0 616.4,285.8 616.6,285.6 616.8,285.7 617.1,285.6 617.3,284.7 617.5,287.3 617.8,284.5 618.0,284.0 618.2,285.2 618.5,283.7 618.7,285.5 618.9,284.9 619.2,284.0 619.4,283.3 619.6,282.7 619.9,282.6 620.1,282.2 620.3,282.0 620.6,282.8 620.8,281.6 621.0,281.3 621.3,282.1 621.5,281.7 621.7,281.4 622.0,281.2 622.2,279.9 622.4,280.9 622.7,279.3 622.9,280.2 623.1,278.8 623.4,280.7 623.6,279.1 623.8,280.2 624.1,278.1 624.3,279.9 624.5,278.7 624.8,279.3 625.0,279.0 625.2,278.2 625.5,277.9 625.7,278.0 625.9,278.0 626.2,277.7 626.4,279.2 626.6,277.9 626.9,278.7 627.1,277.6 627.3,277.3 627.5,274.6 627.8,276.8 628.0,278.5 628.2,275.1 628.5,277.6 628.7,274.7 628.9,275.1 629.2,272.4 629.4,275.5 629.6,275.9 629.9,275.9 630.1,276.4 630.3,274.9 630.6,276.9 630.8,275.1 631.0,276.7 631.3,276.2 631.5,277.5 631.7,276.1 632.0,276.2 632.2,275.5 632.4,275.7 632.7,277.4 632.9,276.5 633.1,276.1 633.4,277.0 633.6,276.0 633.8,274.7 634.1,274.5 634.3,274.4 634.5,277.0 634.8,277.2 635.0,277.6 635.2,288.7 635.5,288.7 635.7,276.2 635.9,275.6 636.2,276.5 636.4,275.9 636.6,276.5 636.9,276.3 637.1,276.9 637.3,276.6 637.6,276.9 637.8,276.3 638.0,277.6 638.3,277.7 638.5,276.0 638.7,278.0 639.0,275.7 639.2,275.6 639.4,276.4 639.7,277.6 639.9,276.1 640.1,276.5 640.4,276.2 640.6,276.8 640.8,276.2 641.1,276.2 641.3,276.4 641.5,276.0 641.8,275.9 642.0,275.6 642.2,275.9 642.5,276.1 642.7,275.7 642.9,276.5 643.2,275.5 643.4,276.2 643.6,276.2 643.9,276.2 644.1,275.6 644.3,277.0 644.6,277.0 644.8,278.4 645.0,277.5 645.3,276.1 645.5,275.8 645.7,277.5 646.0,278.9 646.2,276.0 646.4,276.8 646.6,276.2 646.9,276.7 647.1,276.5 647.3,277.4 647.6,277.2 647.8,276.9 648.0,277.3 648.3,278.7 648.5,278.3 648.7,278.3 649.0,279.3 649.2,279.1 649.4,279.9 649.7,279.8 649.9,279.6 650.1,279.9 650.4,280.0 650.6,280.2 650.8,280.6 651.1,279.7 651.3,281.4 651.5,279.9 651.8,281.7 652.0,282.2 652.2,280.9 652.5,282.9 652.7,282.7 652.9,282.5 653.2,283.0 653.4,282.5 653.6,283.1 653.9,283.1 654.1,283.7 654.3,283.1 654.6,282.4 654.8,283.7 655.0,283.9 655.3,283.1 655.5,283.5 655.7,283.1 656.0,285.5 656.2,283.3 656.4,284.2 656.7,284.8 656.9,284.9 657.1,284.8 657.4,285.0 657.6,285.2 657.8,285.2 658.1,284.6 658.3,284.9 658.5,286.4 658.8,286.4 659.0,283.3 659.2,284.5 659.5,284.8 659.7,283.9 659.9,287.0 660.2,284.0 660.4,284.2 660.6,286.6 660.9,285.5 661.1,284.6 661.3,287.8 661.6,289.0 661.8,285.8 662.0,289.1 662.3,286.0 662.5,286.0 662.7,287.7 663.0,287.1 663.2,288.0 663.4,287.7 663.7,287.6 663.9,287.8 664.1,288.0 664.4,288.9 664.6,288.4 664.8,289.4 665.0,289.1 665.3,288.9 665.5,289.1 665.7,289.3 666.0,288.5 666.2,289.8 666.4,288.4 666.7,288.4 666.9,289.3 667.1,289.5 667.4,289.1 667.6,289.3 667.8,289.2 668.1,289.1 668.3,290.7 668.5,290.7 668.8,288.7 669.0,290.6 669.2,289.4 669.5,288.7 669.7,289.9 669.9,290.4 670.2,289.0 670.4,290.1 670.6,289.8 670.9,288.7 671.1,287.6 671.3,288.3 671.6,288.4 671.8,287.4 672.0,287.2 672.3,287.1 672.5,287.0 672.7,288.5 673.0,288.3 673.2,286.6 673.4,287.7 673.7,286.9 673.9,286.2 674.1,287.7 674.4,287.2 674.6,287.3 674.8,286.1 675.1,286.8 675.3,287.4 675.5,287.4 675.8,287.9 676.0,287.5 676.2,285.0 676.5,285.7 676.7,288.2 676.9,288.0 677.2,289.5 677.4,288.3 677.6,289.1 677.9,290.5 678.1,286.3 678.3,286.3 678.6,291.2 678.8,290.6 679.0,288.2 679.3,290.0 679.5,290.3 679.7,287.8 680.0,291.2 680.2,292.0 680.4,292.0 680.7,289.4 680.9,289.4 681.1,289.5 681.4,290.0 681.6,289.6 681.8,290.5 682.1,288.4 682.3,287.6 682.5,290.1 682.8,290.1 683.0,289.9 683.2,287.0 683.4,287.9 683.7,286.0 683.9,289.7 684.1,286.7 684.4,286.5 684.6,287.2 684.8,285.7 685.1,286.9 685.3,285.4 685.5,285.4 685.8,285.7 686.0,285.5 686.2,286.3 686.5,286.5 686.7,285.8 686.9,285.9 687.2,286.9 687.4,287.6 687.6,287.1 687.9,288.0 688.1,287.5 688.3,289.1 688.6,288.4 688.8,288.5 689.0,289.8 689.3,288.4 689.5,291.0 689.7,289.7 690.0,289.6 690.2,290.0 690.4,291.3 690.7,291.6 690.9,290.3 691.1,291.3 691.4,291.6 691.6,291.6 691.8,291.3 692.1,291.5 692.3,292.3 692.5,291.9 692.8,292.2 693.0,293.0 693.2,294.3 693.5,293.4 693.7,294.8 693.9,293.4 694.2,293.4 694.4,298.1 694.6,297.4 694.9,298.2 695.1,297.1 695.3,295.9 695.6,296.5 695.8,297.0 696.0,295.5 696.3,298.1 696.5,297.0 696.7,298.2 697.0,300.2 697.2,299.1 697.4,299.5 697.7,298.0 697.9,297.9 698.1,300.2 698.4,300.6 698.6,297.5 698.8,298.8 699.1,300.6 699.3,300.0 699.5,299.7 699.8,299.7 700.0,298.8 700.2,299.7 700.5,298.0 700.7,298.1 700.9,298.1 701.2,297.9 701.4,299.1 701.6,299.1 701.9,296.7 702.1,298.1 702.3,295.5 702.5,295.4 702.8,297.4 703.0,297.3 703.2,294.3 703.5,293.3 703.7,295.8 703.9,295.4 704.2,293.6 704.4,292.4 704.6,292.7 704.9,291.7 705.1,291.5 705.3,292.3 705.6,290.5 705.8,291.5 706.0,289.1 706.3,291.0 706.5,289.0 706.7,288.2 707.0,287.8 707.2,288.2 707.4,288.6 707.7,287.3 707.9,286.9 708.1,287.2 708.4,286.6 708.6,288.4 708.8,285.9 709.1,289.2 709.3,288.9 709.5,287.8 709.8,289.7 710.0,288.1 710.2,288.4 710.5,285.7 710.7,289.6 710.9,285.9 711.2,286.5 711.4,289.4 711.6,288.9 711.9,287.0 712.1,284.8 712.3,289.0 712.6,284.2 712.8,288.4 713.0,287.3 713.3,287.6 713.5,284.7 713.7,288.1 714.0,285.8 714.2,288.1 714.4,286.9 714.7,288.2 714.9,287.9 715.1,284.6 715.4,286.3 715.6,286.7 715.8,287.9 716.1,289.3 716.3,289.3 716.5,287.5 716.8,287.5 717.0,287.0 717.2,285.6 717.5,285.2 717.7,285.6 717.9,285.4 718.2,285.3 718.4,284.8 718.6,284.4 718.9,284.7 719.1,283.0 719.3,284.4 719.6,284.2 719.8,281.7 720.0,281.6 720.3,281.1 720.5,280.9 720.7,281.9 720.9,284.1 721.2,285.0 721.4,283.8 721.6,282.7 721.9,282.2 722.1,284.3 722.3,284.4 722.6,279.4 722.8,281.8 723.0,280.9 723.3,283.5 723.5,281.7 723.7,280.8 724.0,279.1 724.2,281.8 724.4,278.8 724.7,279.9 724.9,278.0 725.1,278.0 725.4,278.0 725.6,281.0 725.8,279.4 726.1,279.4 726.3,276.4 726.5,279.6 726.8,278.8 727.0,279.8 727.2,279.4 727.5,279.3 727.7,278.0 727.9,279.4 728.2,279.6 728.4,280.8 728.6,279.7 728.9,280.9 729.1,280.7 729.3,279.0 729.6,278.6 729.8,279.2 730.0,278.3 730.3,278.5 730.5,277.0 730.7,277.6 731.0,276.1 731.2,275.7 731.4,277.1 731.7,277.0 731.9,275.9 732.1,277.3 732.4,277.3 732.6,276.2 732.8,276.3 733.1,276.2 733.3,275.9 733.5,273.6 733.8,276.4 734.0,275.7 734.2,273.7 734.5,276.2 734.7,274.7 734.9,271.6 735.2,272.0 735.4,274.1 735.6,272.5 735.9,271.5 736.1,271.0 736.3,273.0 736.6,273.7 736.8,274.1 737.0,271.0 737.3,271.5 737.5,271.5 737.7,272.2 738.0,270.4 738.2,273.8 738.4,269.7 738.7,271.3 738.9,273.8 739.1,271.4 739.4,270.9 739.6,270.5 739.8,272.0 740.0,271.2 740.3,272.3 740.5,271.9 740.7,278.7 741.0,278.7 741.2,272.8 741.4,268.5 741.7,269.5 741.9,268.1 742.1,270.3 742.4,271.8 742.6,270.4 742.8,268.3 743.1,270.9 743.3,267.2 743.5,269.7 743.8,268.7 744.0,266.9 744.2,266.8 744.5,267.0 744.7,269.4 744.9,266.7 745.2,267.9 745.4,268.3 745.6,267.6 745.9,266.4 746.1,266.6 746.3,269.4 746.6,266.2 746.8,269.6 747.0,268.5 747.3,265.6 747.5,265.2 747.7,266.1 748.0,264.0 748.2,265.7 748.4,263.3 748.7,266.9 748.9,265.8 749.1,262.7 749.4,263.1 749.6,264.5 749.8,263.2 750.1,263.9 750.3,277.2 750.5,277.2 750.8,262.9 751.0,263.1 751.2,265.3 751.5,263.8 751.7,263.9 751.9,264.1 752.2,264.8 752.4,262.3 752.6,263.0 752.9,262.9 753.1,264.1 753.3,263.9 753.6,262.7 753.8,262.8 754.0,262.3 754.3,264.6 754.5,261.7 754.7,262.0 755.0,264.9 755.2,266.0 755.4,261.7 755.7,265.0 755.9,262.5 756.1,261.2 756.4,261.7 756.6,263.1 756.8,261.0 757.1,266.4 757.3,265.6 757.5,265.2 757.8,260.3 758.0,264.9 758.2,261.9 758.4,258.2 758.7,261.2 758.9,259.4 759.1,260.1 759.4,257.8 759.6,262.9 759.8,263.6 760.1,263.1 760.3,258.8 760.5,258.8 760.8,263.0 761.0,264.3 761.2,262.0 761.5,264.6 761.7,263.0 761.9,274.2 762.2,274.2 762.4,262.3 762.6,264.3 762.9,261.1 763.1,261.4 763.3,262.4 763.6,260.9 763.8,261.0 764.0,262.9 764.3,261.7 764.5,263.0 764.7,262.8 765.0,262.1 765.2,262.1 765.4,261.9 765.7,263.2 765.9,261.8 766.1,264.0 766.4,262.6 766.6,261.9 766.8,263.7 767.1,264.2 767.3,265.6"/>
<path d="M96.5 355.3V102.45H768.5V355.3" fill="none" stroke="#000" stroke-width="1.39" stroke-linejoin="round"/>
<path d="M95.8 355.3H769.2" fill="none" stroke="#000" stroke-width="1.6"/>
<g opacity="0.996">
<text class="t14" x="80.0" y="360.40" textLength="11.8" lengthAdjust="spacingAndGlyphs">0</text>
<text class="t14" x="68.2" y="327.20" textLength="23.6" lengthAdjust="spacingAndGlyphs">10</text>
<text class="t14" x="68.2" y="294.20" textLength="23.6" lengthAdjust="spacingAndGlyphs">20</text>
<text class="t14" x="68.2" y="260.40" textLength="23.6" lengthAdjust="spacingAndGlyphs">30</text>
<text class="t14" x="68.2" y="227.40" textLength="23.6" lengthAdjust="spacingAndGlyphs">40</text>
<text class="t14" x="68.2" y="193.40" textLength="23.6" lengthAdjust="spacingAndGlyphs">50</text>
<text class="t14" x="68.2" y="160.90" textLength="23.6" lengthAdjust="spacingAndGlyphs">60</text>
<text class="t14" x="68.2" y="127.40" textLength="23.6" lengthAdjust="spacingAndGlyphs">70</text>
<text class="t14" x="84.3" y="374.8" textLength="23.6" lengthAdjust="spacingAndGlyphs">00</text>
<text class="t14" x="112.3" y="374.8" textLength="23.6" lengthAdjust="spacingAndGlyphs">01</text>
<text class="t14" x="140.3" y="374.8" textLength="23.6" lengthAdjust="spacingAndGlyphs">02</text>
<text class="t14" x="168.3" y="374.8" textLength="23.6" lengthAdjust="spacingAndGlyphs">03</text>
<text class="t14" x="196.3" y="374.8" textLength="23.6" lengthAdjust="spacingAndGlyphs">04</text>
<text class="t14" x="224.3" y="374.8" textLength="23.6" lengthAdjust="spacingAndGlyphs">05</text>
<text class="t14" x="252.3" y="374.8" textLength="23.6" lengthAdjust="spacingAndGlyphs">06</text>
<text class="t14" x="280.3" y="374.8" textLength="23.6" lengthAdjust="spacingAndGlyphs">07</text>
<text class="t14" x="308.3" y="374.8" textLength="23.6" lengthAdjust="spacingAndGlyphs">08</text>
<text class="t14" x="336.3" y="374.8" textLength="23.6" lengthAdjust="spacingAndGlyphs">09</text>
<text class="t14" x="364.3" y="374.8" textLength="23.6" lengthAdjust="spacingAndGlyphs">10</text>
<text class="t14" x="392.3" y="374.8" textLength="23.6" lengthAdjust="spacingAndGlyphs">11</text>
<text class="t14" x="420.3" y="374.8" textLength="23.6" lengthAdjust="spacingAndGlyphs">12</text>
<text class="t14" x="448.3" y="374.8" textLength="23.6" lengthAdjust="spacingAndGlyphs">13</text>
<text class="t14" x="476.3" y="374.8" textLength="23.6" lengthAdjust="spacingAndGlyphs">14</text>
<text class="t14" x="504.3" y="374.8" textLength="23.6" lengthAdjust="spacingAndGlyphs">15</text>
<text class="t14" x="532.3" y="374.8" textLength="23.6" lengthAdjust="spacingAndGlyphs">16</text>
<text class="t14" x="560.3" y="374.8" textLength="23.6" lengthAdjust="spacingAndGlyphs">17</text>
<text class="t14" x="588.3" y="374.8" textLength="23.6" lengthAdjust="spacingAndGlyphs">18</text>
<text class="t14" x="616.3" y="374.8" textLength="23.6" lengthAdjust="spacingAndGlyphs">19</text>
<text class="t14" x="644.3" y="374.8" textLength="23.6" lengthAdjust="spacingAndGlyphs">20</text>
<text class="t14" x="672.3" y="374.8" textLength="23.6" lengthAdjust="spacingAndGlyphs">21</text>
<text class="t14" x="700.3" y="374.8" textLength="23.6" lengthAdjust="spacingAndGlyphs">22</text>
<text class="t14" x="728.3" y="374.8" textLength="23.6" lengthAdjust="spacingAndGlyphs">23</text>
<text class="t14" x="756.3" y="374.8" textLength="23.6" lengthAdjust="spacingAndGlyphs">00</text>
<text class="t14" text-anchor="middle" transform="translate(33.8,228.5) rotate(-90)" textLength="135.3">Visibility (km)</text>
<text class="t14" text-anchor="middle" transform="translate(55.6,228.5) rotate(-90)" textLength="222.8">(max. rep. vis.: 75 km)</text>
<text class="t16" x="207.7" y="41.5" textLength="450.2">Latest time: 2025-09-24 00:00:00 UTC</text>
<rect x="294.5" y="55.5" width="276" height="35" fill="#fff" stroke="#000" stroke-width="1.39"/>
<line x1="301.0" y1="71.5" x2="343.2" y2="71.5" stroke="#ff0000" stroke-width="2.78"/>
<text class="t14" x="356" y="78.4" textLength="208.8">Visibility (27.096 km)</text>
</g>
</svg>
</body></html>
